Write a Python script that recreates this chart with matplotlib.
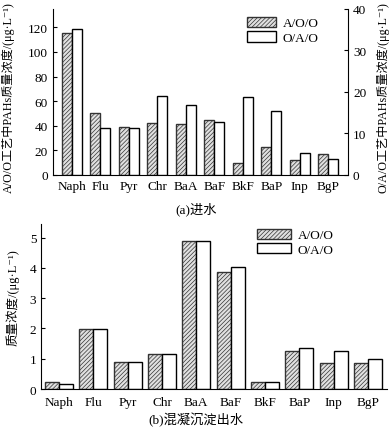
import matplotlib
matplotlib.use("Agg")
import matplotlib.pyplot as plt
import numpy as np

plt.rcParams['font.family'] = ['Liberation Serif', 'Noto Sans CJK SC', 'DejaVu Serif']
plt.rcParams['hatch.linewidth'] = 0.5

categories = ["Naph", "Flu", "Pyr", "Chr", "BaA", "BaF", "BkF", "BaP", "Inp", "BgP"]

# (a) influent: A/O/O on left axis, O/A/O on right axis
inflow_aoo = [115, 50, 39.2, 42.4, 41.4, 44.3, 9.7, 22.6, 12.4, 16.7]
inflow_oao = [35.1, 11.4, 11.3, 18.9, 16.9, 12.75, 18.7, 15.4, 5.26, 3.82]

# (b) coagulation sedimentation effluent
eff_aoo = [0.22, 1.98, 0.88, 1.17, 4.9, 3.88, 0.23, 1.24, 0.86, 0.85]
eff_oao = [0.165, 1.98, 0.88, 1.17, 4.9, 4.03, 0.23, 1.37, 1.26, 0.99]

series_names = ["A/O/O", "O/A/O"]

fig = plt.figure(figsize=(3.92, 4.31), dpi=100)

x = np.arange(len(categories))
HATCH = '////////'
HCOL = '#333333'

# ---------- (a) ----------
ax = fig.add_axes([0.135, 0.592, 0.753, 0.385])
ax2 = ax.twinx()
w = 0.35
b1 = ax.bar(x - w/2, inflow_aoo, w, facecolor='#e0e0e0', edgecolor=HCOL,
            hatch=HATCH, linewidth=1.0, label=series_names[0])
b2 = ax2.bar(x + w/2, inflow_oao, w, facecolor='white', edgecolor='black',
             linewidth=1.0, label=series_names[1])
ax.set_xlim(-0.67, 9.70)
ax.set_ylim(0, 135)
ax2.set_ylim(0, 40)
ax.set_yticks(np.arange(0, 121, 20))
ax2.set_yticks(np.arange(0, 41, 10))
ax.set_xticks(x)
ax.set_xticklabels(categories)
for a in (ax, ax2):
    a.spines['top'].set_visible(False)
    a.tick_params(direction='in', length=3, labelsize=9.5, width=0.8)
ax.tick_params(axis='x', length=3, pad=4)
ax.spines['right'].set_visible(False)
ax2.spines['left'].set_visible(False)
ax2.spines['bottom'].set_visible(False)
ax.set_ylabel("A/O/O工艺中PAHs质量浓度/(μg·L⁻¹)", fontsize=8.7)
ax.yaxis.set_label_coords(-0.128, 0.47)
ax2.set_ylabel("O/A/O工艺中PAHs质量浓度/(μg·L⁻¹)", fontsize=8.7)
ax2.yaxis.set_label_coords(1.096, 0.47)
ax2.legend([b1, b2], series_names, loc='upper left', bbox_to_anchor=(0.63, 1.0),
           frameon=False, fontsize=9.5, handlelength=2.2, handleheight=0.8,
           labelspacing=0.15, handletextpad=0.5, borderaxespad=0.2)
fig.text(0.5, 0.513, "(a)进水", ha='center', va='center', fontsize=9.5)

# ---------- (b) ----------
bx = fig.add_axes([0.105, 0.095, 0.882, 0.383])
w2 = 0.41
c1 = bx.bar(x - w2/2, eff_aoo, w2, facecolor='#e0e0e0', edgecolor=HCOL,
            hatch=HATCH, linewidth=1.0, label=series_names[0])
c2 = bx.bar(x + w2/2, eff_oao, w2, facecolor='white', edgecolor='black',
            linewidth=1.0, label=series_names[1])
bx.set_xlim(-0.52, 9.55)
bx.set_ylim(0, 5.45)
bx.set_yticks(np.arange(0, 6, 1))
bx.set_xticks(x)
bx.set_xticklabels(categories)
bx.spines['top'].set_visible(False)
bx.spines['right'].set_visible(False)
bx.tick_params(direction='in', length=3, labelsize=9.5, width=0.8)
bx.tick_params(axis='x', length=0, pad=5)
bx.set_ylabel("质量浓度/(μg·L⁻¹)", fontsize=9)
bx.yaxis.set_label_coords(-0.062, 0.56)
bx.legend(loc='upper left', bbox_to_anchor=(0.6, 1.02), frameon=False,
          fontsize=9.5, handlelength=2.6, handleheight=0.8,
          labelspacing=0.15, handletextpad=0.5, borderaxespad=0.2)
fig.text(0.5, 0.025, "(b)混凝沉淀出水", ha='center', va='center', fontsize=9.5)

fig.savefig("out.png", dpi=100)
